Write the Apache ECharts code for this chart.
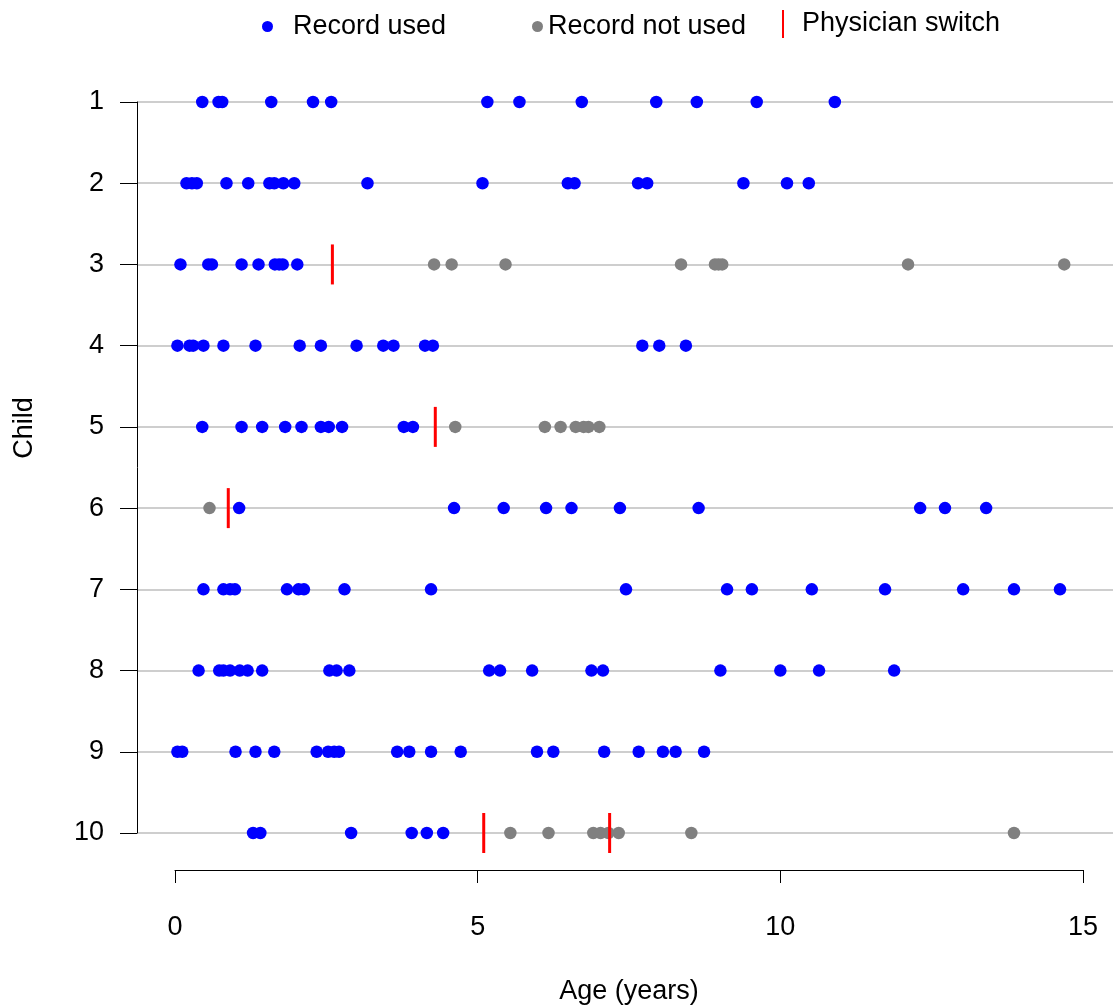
<!DOCTYPE html>
<html>
<head>
<meta charset="utf-8">
<script src="https://cdn.jsdelivr.net/npm/echarts@6/dist/echarts.min.js"></script>
<style>
html,body{margin:0;padding:0;background:#fff;}
#chart{width:1113px;height:1006px;}
</style>
</head>
<body>
<div id="chart"></div>
<script>
// ---- Data (ages in years), one inner array per child ----
const children = ['1','2','3','4','5','6','7','8','9','10'];
const xTicks = [0, 5, 10, 15];

const usedAges = [
  [0.45,0.72,0.78,1.59,2.28,2.58,5.16,5.69,6.72,7.95,8.62,9.61,10.90],
  [0.19,0.28,0.36,0.85,1.21,1.56,1.64,1.79,1.97,3.18,5.08,6.49,6.60,7.65,7.80,9.39,10.11,10.47],
  [0.09,0.55,0.61,1.10,1.38,1.65,1.72,1.78,2.02],
  [0.04,0.24,0.30,0.47,0.80,1.33,2.06,2.41,3.00,3.44,3.61,4.13,4.26,7.72,8.00,8.44],
  [0.45,1.10,1.44,1.82,2.09,2.41,2.54,2.76,3.78,3.93],
  [1.06,4.61,5.43,6.13,6.55,7.35,8.65,12.31,12.72,13.40],
  [0.47,0.80,0.91,0.99,1.85,2.04,2.13,2.80,4.23,7.45,9.12,9.53,10.52,11.73,13.02,13.86,14.62],
  [0.39,0.73,0.80,0.91,1.07,1.20,1.44,2.55,2.67,2.88,5.19,5.37,5.90,6.88,7.07,9.01,10.00,10.64,11.88],
  [0.04,0.12,1.00,1.33,1.64,2.34,2.53,2.63,2.71,3.67,3.87,4.23,4.72,5.98,6.25,7.09,7.66,8.06,8.27,8.74],
  [1.29,1.41,2.91,3.91,4.16,4.43]
];

const notUsedAges = [
  [],
  [],
  [4.28,4.57,5.46,8.36,8.92,8.98,9.04,12.11,14.69],
  [],
  [4.63,6.11,6.37,6.62,6.75,6.83,7.01],
  [0.57],
  [],
  [],
  [],
  [5.54,6.17,6.91,7.03,7.16,7.33,8.53,13.86]
];

const switchAges = [
  [],
  [],
  [2.60],
  [],
  [4.30],
  [0.88],
  [],
  [],
  [],
  [5.10,7.18]
];

function toPoints(groups) {
  const out = [];
  groups.forEach((ages, i) => ages.forEach(a => out.push([a, i + 1])));
  return out;
}

// ---- Layout ----
const FONT = 'Liberation Sans';
const FS = 27;
const plotLeft = 137, x0px = 175, x15px = 1083;
const pxPerYear = (x15px - x0px) / 15;
const dataMin = -(x0px - plotLeft) / pxPerYear;
const dataMax = dataMin + (1113 - plotLeft) / pxPerYear;

const chart = echarts.init(document.getElementById('chart'), null, {renderer: 'canvas'});

chart.setOption({
  animation: false,
  backgroundColor: '#ffffff',
  textStyle: {fontFamily: FONT},
  legend: [
    {data: ['Record used'], left: 257, top: 8, itemWidth: 11, itemHeight: 11, icon: 'circle',
     textStyle: {fontFamily: FONT, fontSize: FS, color: '#000', padding: [0,0,0,15]}},
    {data: ['Record not used'], left: 527, top: 8, itemWidth: 11, itemHeight: 11, icon: 'circle',
     textStyle: {fontFamily: FONT, fontSize: FS, color: '#000'}},
    {data: ['Physician switch'], left: 777, top: 5, itemWidth: 2, itemHeight: 28, icon: 'rect',
     textStyle: {fontFamily: FONT, fontSize: FS, color: '#000', padding: [3,0,0,13]}}
  ],
  grid: [
    {left: plotLeft, right: 0, top: 102, height: 731},
    {left: x0px, width: x15px - x0px, top: 869, height: 1}
  ],
  xAxis: [
    {type: 'value', gridIndex: 0, min: dataMin, max: dataMax, show: false},
    {type: 'value', gridIndex: 1, min: 0, max: 15, interval: 5,
     axisLine: {show: true, onZero: false, lineStyle: {color: '#000', width: 1}},
     axisTick: {show: true, length: 13, lineStyle: {color: '#000', width: 1}},
     axisLabel: {margin: 44, fontSize: FS, color: '#000', fontFamily: FONT,
                 formatter: v => xTicks.includes(v) ? String(v) : ''},
     splitLine: {show: false},
     name: 'Age (years)', nameLocation: 'middle', nameGap: 108,
     nameTextStyle: {fontSize: FS, color: '#000', fontFamily: FONT}}
  ],
  yAxis: [
    {type: 'value', gridIndex: 0, inverse: true, min: 1, max: 10, interval: 1,
     axisLine: {show: true, onZero: false, lineStyle: {color: '#000', width: 1}},
     axisTick: {show: true, length: 17, lineStyle: {color: '#000', width: 1}},
     axisLabel: {margin: 33, fontSize: FS, color: '#000', fontFamily: FONT,
                 formatter: v => children[v - 1] || ''},
     splitLine: {show: true, lineStyle: {color: '#bebebe', width: 1.5}}},
    {type: 'value', gridIndex: 1, show: false, min: 0, max: 1}
  ],
  graphic: [
    {type: 'text', x: 25, y: 428, rotation: Math.PI / 2,
     style: {text: 'Child', fontSize: FS, fontFamily: FONT, fill: '#000',
             align: 'center', verticalAlign: 'middle'}}
  ],
  series: [
    {name: 'Record used', type: 'scatter', xAxisIndex: 0, yAxisIndex: 0,
     symbol: 'circle', symbolSize: 12.5, itemStyle: {color: '#0000ff', opacity: 1},
     data: toPoints(usedAges), z: 3},
    {name: 'Record not used', type: 'scatter', xAxisIndex: 0, yAxisIndex: 0,
     symbol: 'circle', symbolSize: 12.5, itemStyle: {color: '#808080', opacity: 1},
     data: toPoints(notUsedAges), z: 3},
    {name: 'Physician switch', type: 'scatter', xAxisIndex: 0, yAxisIndex: 0,
     symbol: 'rect', symbolSize: [3, 40], itemStyle: {color: '#ff0000', opacity: 1},
     data: toPoints(switchAges), z: 4}
  ]
});
</script>
</body>
</html>
